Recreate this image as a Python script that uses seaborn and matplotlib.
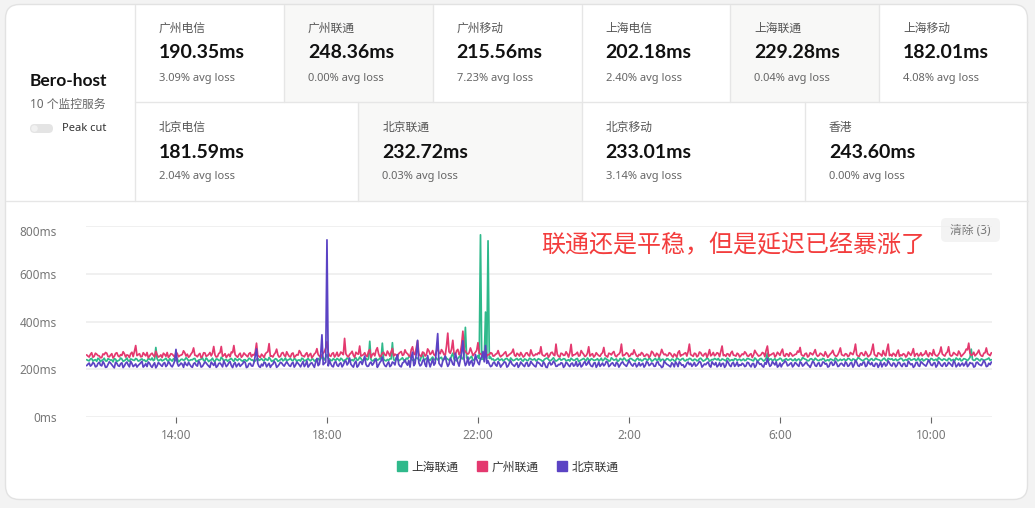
import numpy as np
import pandas as pd
import seaborn as sns
import matplotlib.pyplot as plt
import matplotlib.dates as mdates
from matplotlib.patches import FancyBboxPatch, Rectangle, Circle
from matplotlib.lines import Line2D

sns.set_theme(style="white")
plt.rcParams["font.family"] = ["Noto Sans", "Noto Sans CJK SC", "DejaVu Sans"]
bold_family = ["Lato", "DejaVu Sans"]

# header cards
top_names = ["广州电信", "广州联通", "广州移动", "上海电信", "上海联通", "上海移动"]
top_ms = ["190.35ms", "248.36ms", "215.56ms", "202.18ms", "229.28ms", "182.01ms"]
top_loss = ["3.09% avg loss", "0.00% avg loss", "7.23% avg loss",
            "2.40% avg loss", "0.04% avg loss", "4.08% avg loss"]
bottom_names = ["北京电信", "北京联通", "北京移动", "香港"]
bottom_ms = ["181.59ms", "232.72ms", "233.01ms", "243.60ms"]
bottom_loss = ["2.04% avg loss", "0.03% avg loss", "3.14% avg loss", "0.00% avg loss"]

server_name = "Bero-host"
server_sub = "10 个监控服务"
note = "联通还是平稳，但是延迟已经暴涨了"

series_names = ["上海联通", "广州联通", "北京联通"]
series_colors = ["#2fb98b", "#e4396f", "#5b43c4"]

# latency samples (ms), one every 2 minutes from 11:38
sh_unicom = [
    241, 238, 236, 244, 246, 235, 239, 241, 234, 247, 243, 233, 238, 240, 247, 236, 235, 245, 242, 239,
    240, 232, 245, 243, 233, 237, 239, 248, 244, 234, 237, 241, 248, 236, 235, 244, 242, 239, 238, 246,
    243, 235, 237, 242, 244, 238, 240, 233, 236, 246, 243, 240, 248, 237, 241, 292, 245, 236, 239, 243,
    236, 239, 242, 247, 238, 234, 245, 240, 235, 245, 240, 237, 247, 232, 236, 242, 243, 238, 241, 249,
    244, 236, 238, 241, 240, 245, 246, 234, 235, 239, 241, 243, 249, 237, 236, 248, 242, 233, 238, 240,
    247, 236, 234, 244, 243, 238, 237, 251, 245, 235, 240, 242, 234, 239, 243, 246, 239, 234, 246, 241,
    237, 244, 243, 237, 235, 240, 241, 235, 238, 247, 244, 239, 240, 233, 236, 242, 247, 238, 241, 245,
    239, 236, 246, 241, 238, 250, 243, 234, 237, 239, 245, 243, 234, 237, 241, 246, 236, 240, 248, 235,
    240, 242, 246, 238, 237, 245, 243, 233, 239, 240, 235, 247, 244, 236, 238, 241, 246, 239, 236, 244,
    243, 235, 239, 242, 246, 238, 244, 256, 248, 240, 252, 262, 247, 244, 239, 237, 245, 241, 238, 246,
    242, 236, 247, 243, 235, 239, 241, 248, 244, 235, 238, 241, 236, 245, 249, 238, 241, 252, 246, 237,
    240, 243, 247, 240, 244, 318, 241, 236, 238, 244, 246, 239, 241, 247, 243, 310, 243, 238, 236, 242,
    238, 245, 244, 312, 241, 237, 248, 243, 236, 240, 244, 249, 239, 235, 247, 244, 252, 258, 243, 239,
    236, 242, 249, 247, 240, 236, 255, 266, 238, 241, 247, 245, 242, 238, 246, 252, 240, 243, 248, 240,
    244, 248, 251, 237, 243, 255, 247, 243, 239, 241, 257, 268, 244, 239, 236, 246, 252, 260, 246, 244,
    268, 376, 249, 242, 244, 250, 255, 238, 241, 246, 250, 258, 245, 763, 242, 250, 239, 440, 244, 738,
    246, 252, 241, 244, 237, 239, 243, 247, 238, 241, 244, 236, 240, 245, 246, 240, 235, 248, 242, 237,
    239, 243, 246, 239, 242, 246, 238, 235, 244, 242, 237, 238, 247, 244, 240, 241, 245, 236, 239, 245,
    242, 240, 235, 237, 243, 246, 248, 242, 236, 238, 243, 249, 240, 235, 238, 243, 246, 239, 241, 245,
    244, 236, 238, 241, 235, 247, 242, 238, 239, 244, 246, 233, 237, 240, 243, 246, 240, 237, 248, 242,
    237, 245, 243, 238, 239, 241, 245, 236, 240, 247, 236, 240, 248, 243, 241, 235, 236, 249, 244, 239,
    241, 244, 234, 237, 246, 242, 239, 248, 243, 236, 238, 241, 246, 245, 240, 238, 235, 243, 247, 239,
    243, 236, 238, 244, 246, 240, 239, 247, 244, 235, 237, 242, 246, 238, 240, 251, 235, 241, 243, 237,
    238, 245, 244, 239, 236, 243, 242, 236, 237, 248, 245, 240, 239, 244, 246, 237, 236, 242, 240, 246,
    245, 239, 237, 243, 242, 236, 238, 245, 247, 241, 235, 238, 241, 249, 244, 235, 238, 242, 240, 246,
    243, 240, 246, 237, 238, 244, 242, 239, 236, 247, 245, 236, 239, 241, 236, 245, 244, 238, 241, 243,
    237, 240, 244, 237, 239, 246, 245, 242, 241, 238, 236, 248, 243, 236, 238, 244, 246, 241, 235, 239,
    247, 268, 238, 243, 244, 237, 240, 245, 236, 240, 242, 247, 244, 235, 239, 242, 245, 239, 240, 244,
    243, 237, 239, 245, 236, 241, 244, 238, 240, 250, 246, 243, 241, 236, 237, 244, 245, 240, 238, 247,
    242, 238, 237, 242, 240, 246, 244, 235, 238, 241, 236, 244, 242, 239, 237, 248, 243, 236, 239, 243,
    238, 241, 244, 238, 239, 246, 245, 240, 236, 244, 242, 237, 240, 249, 247, 242, 239, 236, 241, 245,
    246, 240, 236, 243, 245, 238, 239, 247, 243, 241, 240, 236, 238, 244, 247, 239, 236, 246, 244, 242,
    245, 238, 240, 244, 237, 240, 243, 247, 244, 236, 239, 242, 238, 245, 246, 239, 240, 243, 245, 237,
    241, 248, 236, 241, 245, 236, 239, 244, 243, 240, 237, 246, 244, 238, 240, 243, 236, 250, 245, 241,
    238, 244, 243, 239, 237, 246, 245, 237, 240, 242, 236, 248, 243, 240, 246, 236, 238, 245, 244, 241,
    237, 243, 250, 285, 242, 238, 239, 246, 245, 240, 236, 244, 242, 237, 240, 242, 244, 248, 238, 241,
]
gz_unicom = [
    261, 256, 252, 263, 270, 251, 255, 268, 264, 258, 257, 249, 250, 265, 262, 271, 268, 254, 253, 260,
    266, 248, 255, 267, 270, 257, 253, 262, 259, 274, 266, 252, 261, 259, 250, 266, 272, 254, 276, 300,
    258, 262, 266, 253, 254, 270, 263, 257, 271, 249, 256, 264, 268, 259, 253, 276, 262, 252, 255, 261,
    250, 268, 263, 255, 271, 250, 257, 266, 264, 258, 251, 272, 267, 253, 258, 260, 263, 278, 270, 256,
    264, 251, 256, 265, 272, 290, 260, 258, 253, 262, 267, 249, 255, 270, 269, 255, 258, 263, 271, 257,
    268, 296, 261, 252, 254, 267, 270, 296, 255, 259, 266, 250, 258, 264, 253, 273, 270, 300, 262, 256,
    251, 262, 268, 251, 257, 269, 263, 258, 253, 266, 270, 253, 262, 260, 272, 310, 259, 255, 250, 264,
    258, 250, 265, 271, 274, 308, 255, 257, 252, 263, 270, 285, 261, 252, 255, 268, 271, 259, 254, 274,
    263, 255, 252, 266, 269, 250, 256, 262, 260, 279, 271, 258, 257, 253, 264, 270, 252, 261, 267, 249,
    256, 265, 270, 287, 262, 256, 251, 262, 268, 275, 290, 316, 272, 258, 255, 266, 270, 252, 260, 272,
    255, 260, 273, 268, 262, 330, 266, 257, 252, 263, 268, 276, 259, 251, 272, 266, 264, 298, 256, 259,
    262, 270, 258, 254, 275, 283, 250, 262, 268, 257, 280, 291, 266, 253, 257, 268, 272, 261, 258, 277,
    268, 256, 274, 288, 257, 264, 261, 252, 266, 271, 275, 259, 262, 282, 270, 266, 258, 254, 283, 295,
    265, 262, 290, 320, 266, 258, 255, 273, 270, 256, 262, 286, 278, 263, 268, 279, 262, 258, 276, 292,
    270, 266, 283, 275, 262, 260, 298, 352, 274, 268, 285, 322, 266, 261, 278, 284, 262, 270, 305, 360,
    282, 276, 268, 264, 270, 290, 275, 258, 265, 272, 280, 312, 268, 266, 261, 258, 270, 280, 256, 262,
    262, 270, 268, 256, 257, 264, 266, 279, 262, 253, 258, 262, 269, 274, 254, 258, 263, 267, 272, 285,
    260, 255, 268, 263, 256, 271, 262, 252, 257, 268, 270, 260, 256, 282, 266, 257, 259, 265, 262, 270,
    266, 295, 262, 258, 256, 264, 268, 251, 259, 270, 272, 262, 258, 306, 264, 255, 252, 268, 266, 259,
    260, 274, 265, 252, 270, 305, 256, 261, 262, 266, 272, 256, 258, 279, 270, 263, 254, 258, 268, 295,
    256, 262, 266, 252, 258, 270, 263, 258, 255, 265, 270, 292, 260, 256, 252, 268, 266, 261, 270, 275,
    258, 253, 261, 264, 272, 306, 257, 259, 263, 270, 266, 254, 258, 267, 263, 282, 268, 257, 254, 263,
    260, 271, 266, 255, 257, 264, 262, 250, 258, 276, 271, 260, 255, 268, 263, 253, 265, 284, 270, 262,
    264, 257, 259, 270, 267, 258, 252, 265, 260, 252, 271, 278, 256, 261, 262, 267, 270, 256, 275, 306,
    262, 259, 255, 268, 266, 253, 258, 273, 270, 260, 256, 265, 268, 251, 263, 283, 257, 262, 271, 257,
    262, 270, 267, 254, 276, 298, 258, 261, 255, 266, 264, 255, 269, 276, 260, 259, 256, 268, 264, 252,
    258, 265, 262, 274, 268, 257, 255, 262, 266, 250, 261, 280, 270, 263, 256, 258, 262, 271, 268, 254,
    280, 298, 255, 260, 262, 266, 269, 252, 259, 272, 266, 259, 274, 285, 258, 255, 266, 264, 255, 270,
    265, 256, 259, 263, 264, 277, 272, 292, 262, 258, 256, 266, 268, 252, 257, 270, 266, 261, 271, 283,
    262, 255, 259, 268, 265, 259, 256, 274, 262, 251, 258, 265, 270, 280, 263, 257, 255, 262, 274, 290,
    262, 259, 257, 266, 264, 254, 258, 271, 266, 262, 278, 306, 262, 256, 255, 268, 270, 261, 258, 275,
    266, 253, 258, 264, 282, 306, 263, 258, 254, 270, 267, 262, 256, 279, 264, 257, 283, 306, 258, 263,
    256, 268, 263, 255, 270, 281, 255, 261, 258, 266, 263, 252, 258, 273, 266, 259, 270, 287, 255, 264,
    267, 256, 260, 270, 257, 262, 265, 278, 262, 254, 270, 266, 258, 283, 264, 258, 256, 263, 272, 294,
    265, 260, 256, 268, 273, 295, 262, 256, 259, 271, 266, 262, 258, 277, 268, 254, 260, 266, 272, 285,
    282, 310, 268, 259, 262, 272, 257, 263, 270, 281, 264, 257, 255, 268, 270, 290, 266, 262, 258, 270,
]
bj_unicom = [
    216, 222, 227, 214, 219, 229, 225, 211, 213, 225, 230, 218, 215, 233, 224, 209, 210, 221, 232, 227,
    220, 213, 207, 230, 226, 216, 213, 224, 228, 208, 215, 226, 231, 219, 211, 234, 225, 212, 217, 223,
    210, 217, 222, 228, 234, 210, 216, 224, 212, 231, 226, 215, 209, 220, 228, 207, 215, 229, 224, 218,
    213, 225, 229, 212, 218, 232, 226, 216, 211, 222, 236, 284, 227, 214, 219, 227, 222, 209, 231, 221,
    216, 230, 221, 213, 209, 224, 228, 218, 214, 235, 227, 210, 213, 222, 232, 227, 220, 214, 209, 231,
    224, 217, 230, 209, 214, 225, 227, 220, 211, 236, 225, 212, 218, 228, 233, 216, 208, 223, 229, 211,
    219, 226, 213, 219, 224, 233, 230, 208, 211, 224, 226, 215, 214, 229, 258, 286, 225, 213, 209, 222,
    215, 230, 228, 211, 219, 226, 209, 218, 222, 234, 227, 209, 214, 221, 230, 227, 219, 214, 224, 232,
    224, 216, 213, 225, 230, 210, 218, 231, 226, 219, 211, 223, 233, 212, 220, 236, 210, 217, 226, 228,
    218, 209, 230, 246, 216, 222, 262, 345, 220, 226, 230, 742, 215, 238, 224, 214, 211, 229, 233, 218,
    213, 224, 228, 211, 219, 233, 236, 219, 227, 248, 222, 215, 210, 227, 235, 210, 216, 230, 233, 221,
    238, 256, 221, 213, 214, 226, 231, 218, 225, 238, 242, 209, 218, 229, 236, 252, 226, 216, 212, 224,
    232, 212, 217, 231, 228, 219, 245, 262, 222, 214, 211, 227, 230, 240, 226, 218, 238, 210, 250, 272,
    216, 224, 268, 322, 228, 215, 220, 236, 243, 220, 212, 258, 231, 211, 226, 244, 218, 226, 290, 350,
    226, 218, 212, 235, 244, 256, 230, 213, 222, 248, 237, 222, 218, 268, 248, 229, 214, 240, 270, 320,
    240, 216, 226, 252, 218, 230, 238, 214, 225, 262, 242, 228, 220, 245, 252, 275, 232, 300, 226, 236,
    222, 212, 215, 227, 231, 219, 214, 233, 225, 210, 218, 224, 232, 229, 210, 215, 227, 236, 223, 218,
    213, 222, 228, 209, 217, 231, 224, 217, 212, 226, 230, 213, 217, 234, 226, 220, 214, 211, 232, 228,
    225, 216, 213, 232, 224, 210, 208, 225, 231, 219, 223, 235, 228, 213, 214, 221, 220, 228, 226, 209,
    215, 230, 226, 217, 212, 224, 227, 214, 218, 233, 213, 220, 229, 211, 216, 227, 233, 218, 224, 236,
    222, 214, 212, 226, 229, 209, 218, 231, 213, 220, 227, 215, 221, 234, 230, 212, 217, 225, 228, 218,
    214, 230, 225, 210, 219, 228, 232, 222, 218, 213, 224, 237, 228, 219, 214, 224, 226, 211, 217, 229,
    215, 221, 226, 210, 217, 233, 229, 216, 220, 227, 224, 213, 214, 230, 232, 219, 217, 208, 212, 235,
    228, 222, 219, 215, 211, 228, 223, 211, 232, 224, 212, 232, 226, 217, 220, 209, 214, 226, 231, 220,
    226, 213, 220, 229, 214, 218, 225, 234, 229, 210, 216, 223, 220, 227, 231, 215, 210, 232, 224, 219,
    229, 211, 217, 228, 213, 224, 226, 209, 216, 236, 228, 217, 212, 226, 229, 213, 220, 231, 213, 220,
    217, 226, 222, 212, 215, 230, 228, 217, 211, 224, 225, 209, 216, 235, 229, 221, 224, 214, 210, 228,
    222, 246, 227, 213, 218, 233, 226, 219, 232, 210, 215, 227, 211, 222, 227, 236, 230, 215, 218, 224,
    228, 211, 217, 229, 225, 218, 213, 232, 227, 214, 219, 226, 231, 220, 216, 209, 222, 234, 229, 216,
    213, 225, 228, 213, 216, 231, 230, 222, 225, 210, 213, 228, 231, 217, 220, 235, 226, 212, 215, 224,
    226, 219, 214, 232, 226, 213, 217, 227, 228, 210, 220, 238, 230, 216, 213, 224, 218, 229, 231, 212,
    216, 233, 226, 220, 229, 215, 213, 226, 225, 209, 219, 231, 211, 222, 228, 214, 219, 236, 227, 218,
    214, 227, 225, 211, 217, 230, 229, 218, 212, 224, 226, 213, 214, 235, 227, 220, 224, 209, 214, 228,
    230, 216, 213, 232, 228, 222, 218, 214, 225, 239, 231, 219, 216, 226, 229, 210, 217, 233, 226, 217,
    213, 224, 228, 213, 218, 230, 225, 219, 213, 236, 229, 211, 217, 227, 214, 221, 227, 215, 222, 233,
    212, 218, 229, 225, 226, 210, 213, 229, 230, 222, 219, 216, 226, 238, 229, 212, 214, 226, 220, 231,
]

times = pd.date_range("2024-05-01 11:38", periods=len(sh_unicom), freq="2min")
df = pd.DataFrame({
    "time": np.tile(times, 3),
    "ms": sh_unicom + gz_unicom + bj_unicom,
    "series": np.repeat(series_names, len(times)),
})

fig = plt.figure(figsize=(10.35, 5.08), dpi=100)
fig.patch.set_facecolor("#f3f3f3")

# background canvas in pixel units
bg = fig.add_axes([0, 0, 1, 1], zorder=0)
bg.set_xlim(0, 1035)
bg.set_ylim(508, 0)
bg.axis("off")

line_c = "#e6e6e6"
bg.add_patch(FancyBboxPatch((5.5, 4.5), 1022, 495, boxstyle="round,pad=0,rounding_size=14",
                            fc="white", ec="none"))

sel = set(series_names)
col_w = (1028 - 135) / 6
for k in range(6):
    x0 = 135 + k * col_w
    if top_names[k] in sel:
        bg.add_patch(Rectangle((x0, 4.5), col_w, 97.5, fc="#f8f8f7", ec="none"))
    bg.text(x0 + 24, 28, top_names[k], fontsize=8.5, color="#555", va="center")
    bg.text(x0 + 24, 53, top_ms[k], fontsize=14, fontweight="bold", family=bold_family,
            color="#111", va="center")
    bg.text(x0 + 24, 78, top_loss[k], fontsize=8, color="#666", va="center")
    if k > 0:
        bg.plot([x0, x0], [4.5, 102], color=line_c, lw=1)

col_w2 = (1028 - 135) / 4
for k in range(4):
    x0 = 135 + k * col_w2
    if bottom_names[k] in sel:
        bg.add_patch(Rectangle((x0, 102), col_w2, 99, fc="#f8f8f7", ec="none"))
    bg.text(x0 + 24, 127, bottom_names[k], fontsize=8.5, color="#555", va="center")
    bg.text(x0 + 24, 152, bottom_ms[k], fontsize=14, fontweight="bold", family=bold_family,
            color="#111", va="center")
    bg.text(x0 + 24, 177, bottom_loss[k], fontsize=8, color="#666", va="center")
    if k > 0:
        bg.plot([x0, x0], [102, 201], color=line_c, lw=1)

bg.plot([135, 135], [4.5, 201], color=line_c, lw=1)
bg.plot([135, 1027.5], [102, 102], color=line_c, lw=1)
bg.plot([5.5, 1027.5], [201, 201], color=line_c, lw=1)

# server block on the left
bg.text(30, 81, server_name, fontsize=12.5, fontweight="bold", family=bold_family,
        color="#111", va="center")
bg.text(30, 104, server_sub, fontsize=8.5, color="#666", va="center")
bg.add_patch(FancyBboxPatch((30, 124), 23, 9, boxstyle="round,pad=0,rounding_size=4.5",
                            fc="#e4e4e4", ec="none"))
bg.add_patch(Circle((34.5, 128.5), 3.3, fc="#f1f1f1", ec="none"))
bg.text(62, 128.5, "Peak cut", fontsize=8, color="#333", va="center")

# card outline on top
bg.add_patch(FancyBboxPatch((5.5, 4.5), 1022, 495, boxstyle="round,pad=0,rounding_size=14",
                            fc="none", ec="#e2e2e2", lw=1))

# clear button and note
bg.add_patch(FancyBboxPatch((941, 218), 59, 24, boxstyle="round,pad=0,rounding_size=5",
                            fc="#f3f3f3", ec="none"))
bg.text(970.5, 230, "清除 (3)", fontsize=8.5, color="#777", ha="center", va="center")
bg.text(541, 246, note, fontsize=17.3, color="#f33d3d", va="center")

# latency chart
ax = fig.add_axes([86 / 1035, 1 - 417.3 / 508, 906 / 1035, 191.3 / 508], zorder=1)
ax.set_facecolor("none")
sns.lineplot(data=df, x="time", y="ms", hue="series", hue_order=series_names,
             palette=series_colors, linewidth=1.25, estimator=None, legend=False, ax=ax)

ax.set_xlim(pd.Timestamp("2024-05-01 11:37"), pd.Timestamp("2024-05-02 11:37"))
ax.set_ylim(0, 800)
ax.set_yticks([0, 200, 400, 600, 800])
ax.set_yticklabels(["0ms", "200ms", "400ms", "600ms", "800ms"])
ax.xaxis.set_major_locator(mdates.HourLocator(byhour=[2, 6, 10, 14, 18, 22]))
ax.xaxis.set_major_formatter(mdates.DateFormatter("%-H:%M"))
for s in ax.spines.values():
    s.set_visible(False)
ax.grid(axis="y", color="#efefef", lw=1.3)
ax.grid(axis="x", visible=False)
ax.set_axisbelow(True)
ax.tick_params(axis="y", left=False, length=0, pad=21, labelsize=8.5, labelcolor="#777")
ax.tick_params(axis="x", bottom=True, length=4, width=0.8, color="#666", pad=4.5,
               labelsize=8.5, labelcolor="#777", direction="out")
ax.get_yticklabels()[-1].set_verticalalignment("top")
ax.set_xlabel("")
ax.set_ylabel("")

handles = [Line2D([], [], ls="none", marker="s", ms=6.5, mfc=c, mec=c) for c in series_colors]
fig.legend(handles, series_names, loc="center", bbox_to_anchor=(508 / 1035, 1 - 467 / 508),
           ncol=3, frameon=False, fontsize=8.5, handlelength=0.8, handletextpad=0.4,
           columnspacing=1.6, labelcolor="#333")

fig.savefig("out.png", dpi=100, facecolor=fig.get_facecolor())
